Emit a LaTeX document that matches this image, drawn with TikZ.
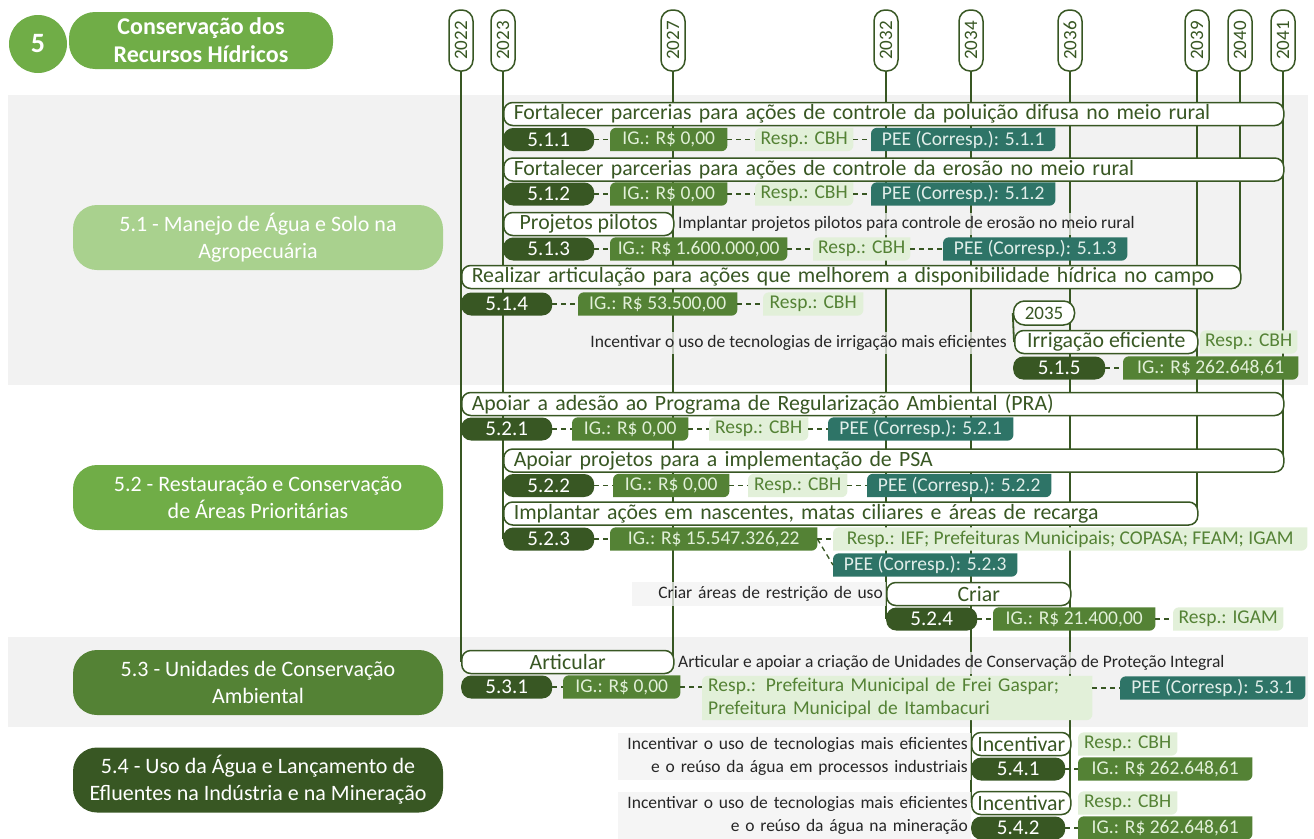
\documentclass[tikz,border=0pt]{standalone}
\usepackage{fontspec}
\setmainfont{Carlito}

\definecolor{dgreen}{HTML}{385723}
\definecolor{mgreen}{HTML}{548235}
\definecolor{hgreen}{HTML}{70AD47}
\definecolor{lgreen}{HTML}{A9D18E}
\definecolor{pgreen}{HTML}{E2F0D9}
\definecolor{peecol}{HTML}{2E7467}
\definecolor{peetext}{HTML}{E1EEEA}
\definecolor{bandgray}{HTML}{F2F2F2}
\definecolor{desctext}{HTML}{262626}

\newcommand\barfont{\fontsize{21.8}{24}\selectfont}
\newcommand\idfont{\fontsize{21}{24}\selectfont}
\newcommand\tagfont{\fontsize{19.5}{23}\selectfont}
\newcommand\descfont{\fontsize{17.5}{23}\selectfont}
\newcommand\yearfont{\fontsize{19}{19}\selectfont}
\newcommand\groupfont{\fontsize{22}{27}\selectfont}
\newcommand\headfont{\bfseries\fontsize{24}{28}\selectfont}
\newcommand\numfont{\bfseries\fontsize{28}{28}\selectfont}

% tag fill: top left and bottom right corners rounded
\newcommand\cornerfill[2]{%
  \fill[#2] ([yshift=-6pt]#1.north west) arc[start angle=180, end angle=90, radius=6pt]
    -- (#1.north east) -- ([yshift=6pt]#1.south east)
    arc[start angle=0, end angle=-90, radius=6pt] -- (#1.south west) -- cycle;}

\pgfdeclarelayer{bands}
\pgfdeclarelayer{tags}
\pgfsetlayers{bands,tags,main}

\begin{document}
\begin{tikzpicture}[x=1pt, y=1pt,
  yearbox/.style={draw=dgreen, fill=white, line width=1.5pt, rounded corners=11pt, rotate=90,
    minimum width=61pt, minimum height=24pt, inner sep=0pt, text=dgreen, font=\yearfont},
  yearline/.style={dgreen, line width=1.8pt},
  taskbar/.style={draw=dgreen, fill=white, line width=1.5pt, rounded corners=9pt, anchor=west,
    minimum height=23pt, inner xsep=10pt, inner ysep=0pt, align=left, text=dgreen, font=\barfont},
  stagebox/.style={draw=dgreen, fill=white, line width=1.5pt, rounded corners=9pt, anchor=west,
    minimum height=23pt, inner sep=0pt, text=dgreen, font=\barfont},
  idbox/.style={fill=dgreen, rounded corners=10pt, anchor=west, minimum width=91pt,
    minimum height=23pt, inner sep=0pt, text=white, font=\idfont},
  tagbox/.style={anchor=west, minimum height=23pt, inner sep=0pt, font=\tagfont},
  igbox/.style={tagbox, text=pgreen},
  respbox/.style={tagbox, text=mgreen},
  peebox/.style={tagbox, text=peetext},
  descbox/.style={fill=bandgray, fill opacity=.75, text opacity=1, text=desctext, font=\descfont,
    inner xsep=3pt, inner ysep=3pt},
  groupbox/.style={rounded corners=24pt, minimum width=370pt, minimum height=65pt, align=center,
    text=white, font=\groupfont},
  link/.style={dgreen, line width=1.3pt, dash pattern=on 5pt off 4pt}]

\useasboundingbox (0,0) rectangle (1314,-838);

% header
\node[circle, fill=hgreen, minimum size=58pt, inner sep=0pt, text=white, font=\numfont] (num) at (38,-44) {5};
\node[fill=hgreen, rounded corners=26pt, minimum width=264pt, minimum height=57pt, align=center,
  text=white, font=\headfont] (head) at (201,-40.5) {Conservação dos\\Recursos Hídricos};

% years
\foreach \yr/\x in {2022/461, 2023/503, 2027/673, 2032/886, 2034/971, 2036/1070, 2039/1197, 2040/1240, 2041/1283}
  \node[yearbox] (y\yr) at (\x,-40.5) {\yr};

% groups
\node[groupbox, fill=lgreen] (g51) at (258,-237.5) {5.1 - Manejo de Água e Solo na\\Agropecuária};
\node[groupbox, fill=hgreen] (g52) at (258,-497.5) {5.2 - Restauração e Conservação\\de Áreas Prioritárias};
\node[groupbox, fill=mgreen] (g53) at (258,-682.5) {5.3 - Unidades de Conservação\\Ambiental};
\node[groupbox, fill=dgreen] (g54) at (258,-780) {5.4 - Uso da Água e Lançamento de\\Efluentes na Indústria e na Mineração};

% 5.1.1
\node[taskbar, text width=760pt] (bar511) at (503,-114) {Fortalecer parcerias para ações de controle da poluição difusa no meio rural};
\node[idbox] (id511) at (503,-139.5) {5.1.1};
\node[igbox, minimum width=117pt] (ig511) at (610,-139.5) {IG.: R\$ 0,00};
\node[respbox, minimum width=98pt] (re511) at (755,-139.5) {Resp.: CBH};
\node[peebox, minimum width=184pt] (pe511) at (871,-139.5) {PEE (Corresp.): 5.1.1};

% 5.1.2
\node[taskbar, text width=760pt] (bar512) at (503,-169.5) {Fortalecer parcerias para ações de controle da erosão no meio rural};
\node[idbox] (id512) at (503,-194) {5.1.2};
\node[igbox, minimum width=117pt] (ig512) at (610,-194) {IG.: R\$ 0,00};
\node[respbox, minimum width=98pt] (re512) at (755,-194) {Resp.: CBH};
\node[peebox, minimum width=184pt] (pe512) at (871,-194) {PEE (Corresp.): 5.1.2};

% 5.1.3
\node[stagebox, minimum width=170pt] (st513) at (503,-224) {Projetos pilotos};
\node[descbox, anchor=west] (de513) at (675,-224) {Implantar projetos pilotos para controle de erosão no meio rural};
\node[idbox] (id513) at (503,-249) {5.1.3};
\node[igbox, minimum width=177pt] (ig513) at (610,-249) {IG.: R\$ 1.600.000,00};
\node[respbox, minimum width=97pt] (re513) at (813,-249) {Resp.: CBH};
\node[peebox, minimum width=184pt] (pe513) at (943,-249) {PEE (Corresp.): 5.1.3};

% 5.1.4
\node[taskbar, text width=759pt] (bar514) at (461,-277) {Realizar articulação para ações que melhorem a disponibilidade hídrica no campo};
\node[idbox] (id514) at (461,-304) {5.1.4};
\node[igbox, minimum width=159pt] (ig514) at (578,-304) {IG.: R\$ 53.500,00};
\node[respbox, minimum width=100pt] (re514) at (763,-304) {Resp.: CBH};

% 5.1.5
\node[yearbox, rotate=-90] (y2035) at (1044,-313) {2035};
\node[descbox, anchor=east] (de515) at (1010,-343) {Incentivar o uso de tecnologias de irrigação mais eficientes};
\node[stagebox, minimum width=183pt] (st515) at (1014,-342) {Irrigação eficiente};
\node[respbox, minimum width=97pt] (re515) at (1200,-342) {Resp.: CBH};
\node[idbox, minimum width=92pt] (id515) at (1013,-368) {5.1.5};
\node[igbox, minimum width=175pt] (ig515) at (1123,-368) {IG.: R\$ 262.648,61};

% 5.2.1
\node[taskbar, text width=802pt] (bar521) at (461,-404) {Apoiar a adesão ao Programa de Regularização Ambiental (PRA)};
\node[idbox] (id521) at (461,-429) {5.2.1};
\node[igbox, minimum width=116pt] (ig521) at (572,-429) {IG.: R\$ 0,00};
\node[respbox, minimum width=99pt] (re521) at (709,-429) {Resp.: CBH};
\node[peebox, minimum width=185pt] (pe521) at (828,-429) {PEE (Corresp.): 5.2.1};

% 5.2.2
\node[taskbar, text width=760pt] (bar522) at (503,-460.5) {Apoiar projetos para a implementação de PSA};
\node[idbox] (id522) at (503,-485.5) {5.2.2};
\node[igbox, minimum width=116pt] (ig522) at (613,-485.5) {IG.: R\$ 0,00};
\node[respbox, minimum width=99pt] (re522) at (748,-485.5) {Resp.: CBH};
\node[peebox, minimum width=184pt] (pe522) at (867,-485.5) {PEE (Corresp.): 5.2.2};

% 5.2.3
\node[taskbar, text width=674pt] (bar523) at (503,-513.5) {Implantar ações em nascentes, matas ciliares e áreas de recarga};
\node[idbox] (id523) at (503,-539) {5.2.3};
\node[igbox, minimum width=207pt] (ig523) at (610,-539) {IG.: R\$ 15.547.326,22};
\node[respbox, minimum width=474pt] (re523) at (833,-539) {Resp.: IEF; Prefeituras Municipais; COPASA; FEAM; IGAM};
\node[peebox, minimum width=184pt] (pe523) at (833,-565) {PEE (Corresp.): 5.2.3};

% 5.2.4
\node[descbox, anchor=east, text width=248pt, align=right, minimum height=24pt] (de524) at (886,-594) {Criar áreas de restrição de uso};
\node[stagebox, minimum width=184pt] (st524) at (886,-594) {Criar};
\node[idbox] (id524) at (886,-619) {5.2.4};
\node[igbox, minimum width=162pt] (ig524) at (993,-619) {IG.: R\$ 21.400,00};
\node[respbox, minimum width=110pt] (re524) at (1173,-619) {Resp.: IGAM};

% 5.3.1
\node[stagebox, minimum width=212pt] (st531) at (461,-662) {Articular};
\node[descbox, anchor=west] (de531) at (675,-663) {Articular e apoiar a criação de Unidades de Conservação de Proteção Integral};
\node[idbox] (id531) at (461,-687) {5.3.1};
\node[igbox, minimum width=117pt] (ig531) at (563,-687) {IG.: R\$ 0,00};
\node[respbox, minimum height=44pt, inner xsep=6pt, text width=378pt, align=left] (re531) at (702,-698)
  {Resp.: Prefeitura Municipal de Frei Gaspar;\\Prefeitura Municipal de Itambacuri};
\node[peebox, minimum width=185pt] (pe531) at (1120,-688) {PEE (Corresp.): 5.3.1};

% 5.4.1
\node[descbox, anchor=east, text width=347pt, align=right, minimum height=47pt] (de541) at (971,-756.5)
  {Incentivar o uso de tecnologias mais eficientes\\e o reúso da água em processos industriais};
\node[stagebox, minimum width=99pt] (st541) at (971,-744) {Incentivar};
\node[respbox, minimum width=99pt] (re541) at (1078,-744) {Resp.: CBH};
\node[idbox, minimum width=94pt] (id541) at (971,-769) {5.4.1};
\node[igbox, minimum width=174pt] (ig541) at (1078,-769) {IG.: R\$ 262.648,61};

% 5.4.2
\node[descbox, anchor=east, text width=347pt, align=right, minimum height=47pt] (de542) at (971,-815.5)
  {Incentivar o uso de tecnologias mais eficientes\\e o reúso da água na mineração};
\node[stagebox, minimum width=99pt] (st542) at (971,-803) {Incentivar};
\node[respbox, minimum width=99pt] (re542) at (1078,-803) {Resp.: CBH};
\node[idbox, minimum width=94pt] (id542) at (971,-828) {5.4.2};
\node[igbox, minimum width=174pt] (ig542) at (1078,-828) {IG.: R\$ 262.648,61};

% dashed links
\foreach \a/\b in {id511/ig511, ig511/re511, re511/pe511, id512/ig512, ig512/re512, re512/pe512,
    id513/ig513, ig513/re513, re513/pe513, id514/ig514, ig514/re514, id515/ig515,
    id521/ig521, ig521/re521, re521/pe521, id522/ig522, ig522/re522, re522/pe522,
    id523/ig523, ig523/re523, id524/ig524, ig524/re524, id531/ig531, id541/ig541, id542/ig542}
  \draw[link] (\a) -- (\b);
\draw[link] (ig523.east) -- (pe523.west);
\draw[link] (ig531.east) -- (ig531.east -| re531.west);
\draw[link] (re531.east |- pe531.west) -- (pe531.west);

% tag fills
\begin{pgfonlayer}{tags}
  \foreach \n in {ig511, ig512, ig513, ig514, ig515, ig521, ig522, ig523, ig524, ig531, ig541, ig542}
    {\cornerfill{\n}{mgreen}}
  \foreach \n in {re511, re512, re513, re514, re515, re521, re522, re523, re524, re531, re541, re542}
    {\cornerfill{\n}{pgreen}}
  \foreach \n in {pe511, pe512, pe513, pe521, pe522, pe523, pe531}
    {\cornerfill{\n}{peecol}}
\end{pgfonlayer}

% bands and year lines
\begin{pgfonlayer}{bands}
  \fill[bandgray] (8,-95) rectangle (1308,-385);
  \fill[bandgray] (8,-637) rectangle (1308,-727);
  \draw[yearline] (y2022.west) -- (y2022.west |- st531.center);
  \draw[yearline] (y2023.west) -- (y2023.west |- id523.center);
  \draw[yearline] (y2027.west) -- (y2027.west |- st531.center);
  \draw[yearline] (y2032.west) -- (y2032.west |- id524.center);
  \draw[yearline] (y2034.west) -- (y2034.west |- st542.center);
  \draw[yearline] (y2036.west) -- (y2036.west |- st542.center);
  \draw[yearline] (y2039.west) -- (y2039.west |- bar523.center);
  \draw[yearline] (y2040.west) -- (y2040.west |- bar514.center);
  \draw[yearline] (y2041.west) -- (y2041.west |- bar522.center);
  \draw[yearline] (y2035.west) -- (st515.west);
\end{pgfonlayer}
\end{tikzpicture}
\end{document}
